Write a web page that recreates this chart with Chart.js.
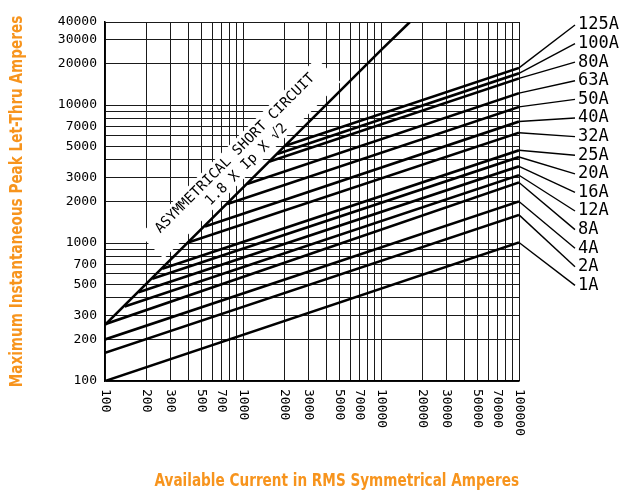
<!DOCTYPE html>
<html>
<head>
<meta charset="utf-8">
<script src="https://cdn.jsdelivr.net/npm/chart.js@4.4.1/dist/chart.umd.min.js"></script>
<style>
  body { margin: 0; background: #fff; }
  #wrap { width: 642px; height: 493px; position: relative; }
</style>
</head>
<body>
<div id="wrap"><canvas id="letThru"></canvas></div>
<script>
// fuse ratings, top to bottom as labelled on the right
var fuses = ['125A','100A','80A','63A','50A','40A','32A','25A','20A','16A','12A','8A','4A','2A','1A']
// where each curve leaves the asymmetrical line (or the left edge)
var startAmps = [2030, 1770, 1560, 1070, 770, 530, 400, 260, 220, 175, 139, 100, 100, 100, 100]
var startPeak = [5080, 4420, 3900, 2680, 1920, 1320, 1010, 650, 550, 440, 347, 258, 200, 160, 100]
// peak let-thru at 100000 A
var endAmps = 100000
var endPeak = [18600, 17000, 15600, 12200, 9700, 7600, 6300, 4700, 4200, 3600, 3100, 2750, 2000, 1600, 1010]

// asymmetrical short circuit line, 1.8 x Ip x sqrt2
var asymAmps = [100, 1000, 10000, 16200]
var asymPeak = [255, 2520, 25000, 40000]

var xGrid = [100,200,300,400,500,600,700,800,900,1000,2000,3000,4000,5000,6000,7000,8000,9000,
             10000,20000,30000,40000,50000,60000,70000,80000,90000,100000]
var yGrid = [100,200,300,400,500,600,700,800,900,1000,2000,3000,4000,5000,6000,7000,8000,9000,
             10000,20000,30000,40000]
var xLabels = [100,200,300,500,700,1000,2000,3000,5000,7000,10000,20000,30000,50000,70000,100000]
var yLabels = [100,200,300,500,700,1000,2000,3000,5000,7000,10000,20000,30000,40000]

var xTitle = 'Available Current in RMS Symmetrical Amperes'
var yTitle = 'Maximum Instantaneous Peak Let-Thru Amperes'

var orange = '#F7941D'
var plotFont = "'DejaVu Sans Mono', monospace"
var titleFont = "'DejaVu Sans Condensed', 'Liberation Sans', sans-serif"

var datasets = []
datasets.push({
    data: asymAmps.map(function(a, i){ return {x: a, y: asymPeak[i]} }),
    borderColor: '#000', borderWidth: 2.6, pointRadius: 0, tension: 0
})
fuses.forEach(function(f, i){
    datasets.push({
        label: f,
        data: [{x: startAmps[i], y: startPeak[i]}, {x: endAmps, y: endPeak[i]}],
        borderColor: '#000', borderWidth: 2.6, pointRadius: 0
    })
})

// condensed bold title, squeezed a bit horizontally like the original
function drawTitle(ctx, text, x, y, rot, align){
    ctx.save()
    ctx.translate(x, y)
    ctx.rotate(rot)
    ctx.scale(0.89, 1)
    ctx.fillStyle = orange
    ctx.font = 'bold 17px ' + titleFont
    ctx.textAlign = align
    ctx.textBaseline = 'middle'
    ctx.fillText(text, 0, 0)
    ctx.restore()
}

var extras = {
    id: 'extras',
    beforeDatasetsDraw: function(chart){
        var ctx = chart.ctx
        var xs = chart.scales.x, ys = chart.scales.y
        // anchor on the asymmetrical line
        var ax = xs.getPixelForValue(1250), ay = ys.getPixelForValue(3130)
        ctx.save()
        ctx.translate(ax, ay)
        ctx.rotate(-Math.PI / 4)
        ctx.fillStyle = '#fff'
        ctx.fillRect(-125, -40, 250, 34)
        ctx.fillStyle = '#000'
        ctx.font = '14px ' + plotFont
        ctx.textAlign = 'center'
        ctx.textBaseline = 'middle'
        ctx.fillText('ASYMMETRICAL SHORT CIRCUIT', 0, -30)
        ctx.fillText('1.8 X Ip X \u221A2', 0, -14)
        ctx.restore()
    },
    afterDraw: function(chart){
        var ctx = chart.ctx
        var xs = chart.scales.x, ys = chart.scales.y
        var area = chart.chartArea

        // x tick labels, reading top to bottom
        ctx.save()
        ctx.fillStyle = '#000'
        ctx.font = '13px ' + plotFont
        ctx.textAlign = 'left'
        ctx.textBaseline = 'middle'
        xLabels.forEach(function(v){
            ctx.save()
            ctx.translate(xs.getPixelForValue(v), area.bottom + 8)
            ctx.rotate(Math.PI / 2)
            ctx.fillText(String(v), 0, 0)
            ctx.restore()
        })
        ctx.restore()

        // leaders and rating labels
        ctx.save()
        ctx.strokeStyle = '#000'
        ctx.lineWidth = 1.4
        ctx.fillStyle = '#000'
        ctx.font = '17px ' + plotFont
        ctx.textAlign = 'left'
        ctx.textBaseline = 'middle'
        var ex = xs.getPixelForValue(endAmps)
        fuses.forEach(function(f, i){
            var ly = 25 + i * 18.6
            ctx.beginPath()
            ctx.moveTo(ex, ys.getPixelForValue(endPeak[i]))
            ctx.lineTo(575, ly)
            ctx.stroke()
            ctx.fillText(f, 578, ly)
        })
        ctx.restore()

        // axis titles
        drawTitle(ctx, xTitle, area.right, 482, 0, 'right')
        drawTitle(ctx, yTitle, 18, (area.top + area.bottom) / 2, -Math.PI / 2, 'center')
    }
}

new Chart(document.getElementById('letThru'), {
    type: 'line',
    data: { datasets: datasets },
    options: {
        responsive: true,
        maintainAspectRatio: false,
        animation: false,
        layout: { padding: { left: 0, top: 22, right: 123, bottom: 0 } },
        plugins: { legend: { display: false }, tooltip: { enabled: false } },
        scales: {
            x: {
                type: 'logarithmic', min: 100, max: 100000,
                afterBuildTicks: function(s){ s.ticks = xGrid.map(function(v){ return {value: v} }) },
                afterFit: function(s){ s.height = 112 },
                ticks: { display: false, autoSkip: false },
                grid: { color: '#1a1a1a', lineWidth: 1, drawTicks: false },
                border: { color: '#000', width: 1.5 }
            },
            y: {
                type: 'logarithmic', min: 100, max: 40000,
                afterBuildTicks: function(s){ s.ticks = yGrid.map(function(v){ return {value: v} }) },
                afterFit: function(s){ s.width = 105 },
                ticks: {
                    autoSkip: false, padding: 8, color: '#000',
                    font: { family: plotFont, size: 13 },
                    callback: function(v){ return yLabels.indexOf(v) >= 0 ? String(v) : '' }
                },
                grid: { color: '#1a1a1a', lineWidth: 1, drawTicks: false },
                border: { color: '#000', width: 1.5 }
            }
        }
    },
    plugins: [extras]
})
</script>
</body>
</html>
